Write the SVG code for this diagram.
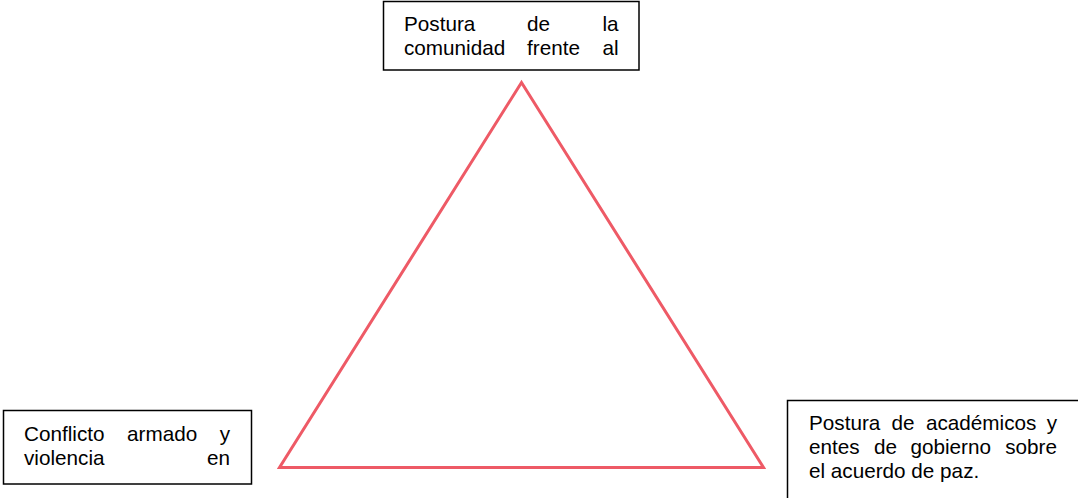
<svg xmlns="http://www.w3.org/2000/svg" width="1078" height="498" viewBox="0 0 1078 498">
<style>
.box{fill:#fff;stroke:#000;stroke-width:1.5}
.t{font-family:"Liberation Sans",Arial,sans-serif;font-size:20.7px;fill:#000}
.e{text-anchor:end}
.tri{fill:none;stroke:#EE5A66;stroke-width:3;stroke-linejoin:miter}
</style>
<rect width="1078" height="498" fill="#fff"/>
<g id="triangle">
<polygon class="tri" points="521.5,82.5 763.5,467.5 279.5,467.5"/>
</g>
<g id="node-top">
<rect class="box" x="383.5" y="1.5" width="255.5" height="68.5"/>
<text class="t" x="404" y="30.5">Postura</text>
<text class="t" x="527" y="30.5">de</text>
<text class="t e" x="618.5" y="30.5">la</text>
<text class="t" x="404" y="54.5">comunidad</text>
<text class="t" x="527" y="54.5">frente</text>
<text class="t e" x="618.5" y="54.5">al</text>
</g>
<g id="node-left">
<rect class="box" x="3.5" y="410.5" width="248" height="73.5"/>
<text class="t" x="24" y="441">Conflicto</text>
<text class="t" x="127" y="441">armado</text>
<text class="t e" x="230" y="441">y</text>
<text class="t" x="24" y="465">violencia</text>
<text class="t e" x="230" y="465">en</text>
</g>
<g id="node-right">
<rect class="box" x="787.5" y="400.5" width="300" height="110"/>
<text class="t" x="809" y="429.5">Postura</text>
<text class="t" x="891.5" y="429.5">de</text>
<text class="t" x="926" y="429.5">académicos</text>
<text class="t e" x="1057" y="429.5">y</text>
<text class="t" x="809" y="453.5">entes</text>
<text class="t" x="874" y="453.5">de</text>
<text class="t" x="910.5" y="453.5">gobierno</text>
<text class="t e" x="1057" y="453.5">sobre</text>
<text class="t" x="809" y="477.5">el acuerdo de paz.</text>
</g>
<g id="connectors"/>
</svg>
